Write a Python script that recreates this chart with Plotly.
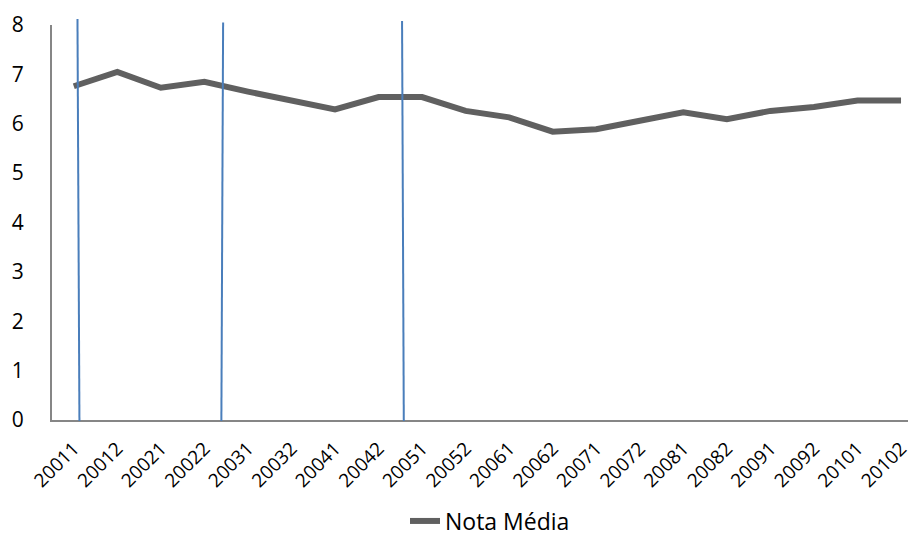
import plotly.graph_objects as go

# Semesters (year + semester) and the average grade for each
periods = ["20011", "20012", "20021", "20022", "20031", "20032", "20041", "20042",
           "20051", "20052", "20061", "20062", "20071", "20072", "20081", "20082",
           "20091", "20092", "20101", "20102"]
nota_media = [6.76, 7.05, 6.73, 6.85, 6.65, 6.48, 6.29, 6.54, 6.54, 6.26,
              6.13, 5.84, 5.89, 6.06, 6.23, 6.09, 6.26, 6.34, 6.47, 6.47]

Y_MAX = 8

# Hand-drawn divider lines: (x at top, y at top, x at bottom, y at bottom) in axis units
dividers = [
    (0.085, 8.12, 0.13, -0.02),
    (3.43, 8.05, 3.39, -0.02),
    (7.54, 8.08, 7.58, -0.02),
]

FONT = "Open Sans"
AXIS_GREY = "#868686"

fig = go.Figure()
fig.add_trace(go.Scatter(
    x=periods, y=nota_media, mode="lines", name="Nota Média",
    line=dict(color="#606060", width=6),
))

# y is given in paper units (value / Y_MAX) so the lines may poke just past the top of the axis
for x0, y0, x1, y1 in dividers:
    fig.add_shape(type="line", xref="x", yref="paper",
                  x0=x0, y0=y0 / Y_MAX, x1=x1, y1=y1 / Y_MAX,
                  line=dict(color="#4a7ebb", width=2), layer="above")

fig.update_layout(
    width=912, height=539,
    margin=dict(l=52, r=0, t=25, b=119),
    paper_bgcolor="white", plot_bgcolor="white",
    font=dict(family=FONT, color="#000000"),
    showlegend=True,
    legend=dict(orientation="h", xref="container", yref="container",
                x=490 / 912, xanchor="center", y=1 - 521 / 539, yanchor="middle",
                font=dict(size=23, family=FONT, color="#000000")),
    xaxis=dict(
        type="category", range=[-0.5, 19.16],
        showgrid=False, zeroline=False, showline=True, linecolor=AXIS_GREY, linewidth=2,
        ticks="", tickangle=-45, ticklabelstandoff=8,
        tickfont=dict(size=19, family=FONT, color="#000000"),
    ),
    yaxis=dict(
        range=[0, Y_MAX], dtick=1, showgrid=False, zeroline=False,
        showline=True, linecolor=AXIS_GREY, linewidth=2,
        ticks="", ticklabelstandoff=22, tickfont=dict(size=21, family=FONT, color="#000000"),
    ),
)

fig.write_html("out.html")
